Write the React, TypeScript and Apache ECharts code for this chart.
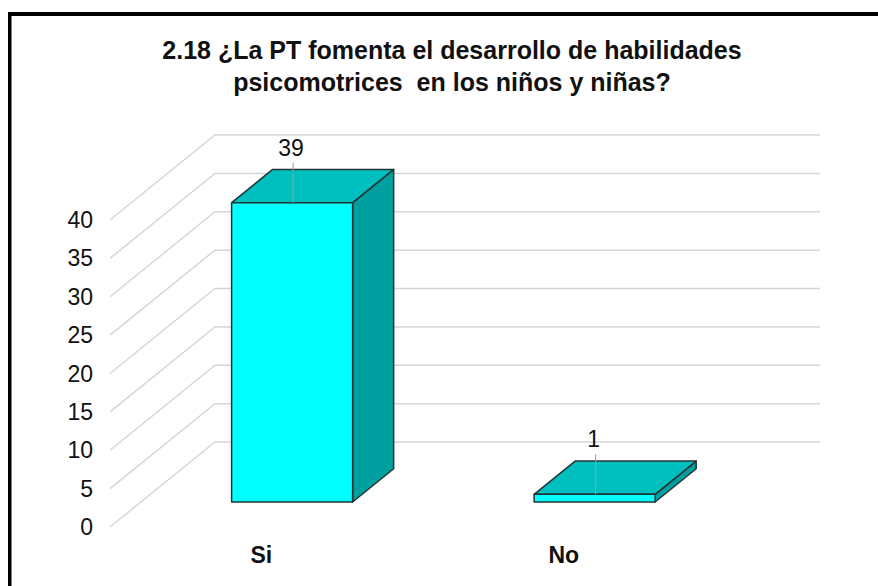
import React, { useEffect, useRef } from "react";
import * as echarts from "echarts";

const titleLines = [
  "2.18 ¿La PT fomenta el desarrollo de habilidades",
  "psicomotrices  en los niños y niñas?",
];
const categories = ["Si", "No"];
const values = [39, 1];
const yTicks = [0, 5, 10, 15, 20, 25, 30, 35, 40];

const FONT = '"Liberation Sans", Arial, sans-serif';
const DX = 105; // depth offset of the back wall (x)
const DY = 85; // depth offset of the back wall (y, upward)
const T0 = 0.294; // bar front depth fraction
const T1 = 0.685; // bar back depth fraction

export default function App() {
  const ref = useRef<HTMLDivElement>(null);
  useEffect(() => {
    if (!ref.current) return;
    const chart = echarts.init(ref.current, null, { renderer: "svg" });
    const option: any = {
      animation: false,
      backgroundColor: "#ffffff",
      grid: { left: 110, right: 163, top: 220, bottom: 59 },
      xAxis: {
        type: "category",
        data: categories,
        axisLine: { show: false },
        axisTick: { show: false },
        splitLine: { show: false },
        axisLabel: {
          margin: 16,
          fontSize: 23,
          fontWeight: "bold",
          color: "#111",
          fontFamily: FONT,
        },
      },
      yAxis: {
        type: "value",
        min: 0,
        max: 40,
        interval: 5,
        axisLine: { show: false },
        axisTick: { show: false },
        splitLine: { show: false },
        axisLabel: { margin: 17, fontSize: 23, color: "#111", fontFamily: FONT },
      },
      graphic: [
        {
          type: "rect",
          shape: { x: 8, y: 12, width: 870, height: 4 },
          style: { fill: "#000" },
          z: 100,
        },
        {
          type: "rect",
          shape: { x: 8, y: 12, width: 3.5, height: 574 },
          style: { fill: "#000" },
          z: 100,
        },
        {
          type: "text",
          x: 452,
          y: 34,
          style: {
            text: titleLines.join("\n"),
            align: "center",
            verticalAlign: "top",
            fontSize: 25,
            fontWeight: "bold",
            fontFamily: FONT,
            lineHeight: 32,
            fill: "#111",
          },
        },
      ],
      series: [
        {
          type: "custom",
          silent: true,
          z: 1,
          data: yTicks.map((v) => [0, v]),
          renderItem: (params: any, api: any) => {
            const cs = params.coordSys;
            const y = api.coord([0, api.value(1)])[1];
            return {
              type: "polyline",
              shape: {
                points: [
                  [cs.x, y],
                  [cs.x + DX, y - DY],
                  [cs.x + cs.width + DX, y - DY],
                ],
              },
              style: { stroke: "#d6d6d6", lineWidth: 1.5, fill: null },
            };
          },
        },
        {
          type: "custom",
          z: 5,
          data: values.map((v, i) => [i, v]),
          renderItem: (params: any, api: any) => {
            const i = api.value(0);
            const v = api.value(1);
            const base = api.coord([i, 0]);
            const top = api.coord([i, v]);
            const band = api.size([1, 0])[0];
            const hw = band * 0.2;
            const fx = base[0] + T0 * DX;
            const ox = (T1 - T0) * DX;
            const oy = (T1 - T0) * DY;
            const x0 = fx - hw;
            const x1 = fx + hw;
            const yb = base[1] - T0 * DY;
            const yt = top[1] - T0 * DY;
            const edge = { stroke: "#243434", lineWidth: 1.5, lineJoin: "round" };
            const labelY = yt - 55;
            return {
              type: "group",
              children: [
                {
                  type: "polygon",
                  shape: { points: [[x1, yt], [x1 + ox, yt - oy], [x1 + ox, yb - oy], [x1, yb]] },
                  style: { fill: "#00a0a0", ...edge },
                },
                {
                  type: "polygon",
                  shape: { points: [[x0, yt], [x0 + ox, yt - oy], [x1 + ox, yt - oy], [x1, yt]] },
                  style: { fill: "#00bfbf", ...edge },
                },
                {
                  type: "polygon",
                  shape: { points: [[x0, yt], [x1, yt], [x1, yb], [x0, yb]] },
                  style: { fill: "#00ffff", ...edge },
                },
                {
                  type: "line",
                  shape: { x1: fx + 1, y1: labelY + 15, x2: fx + 1, y2: yt },
                  style: { stroke: "#9a9a9a", lineWidth: 1 },
                },
                {
                  type: "text",
                  x: fx - 1,
                  y: labelY,
                  style: {
                    text: String(v),
                    align: "center",
                    verticalAlign: "middle",
                    fontSize: 23,
                    fontFamily: FONT,
                    fill: "#111",
                  },
                },
              ],
            };
          },
        },
      ],
    };
    chart.setOption(option);
    return () => chart.dispose();
  }, []);
  return (
    <div
      ref={ref}
      style={{ position: "fixed", left: 0, top: 0, width: 878, height: 586 }}
    />
  );
}
